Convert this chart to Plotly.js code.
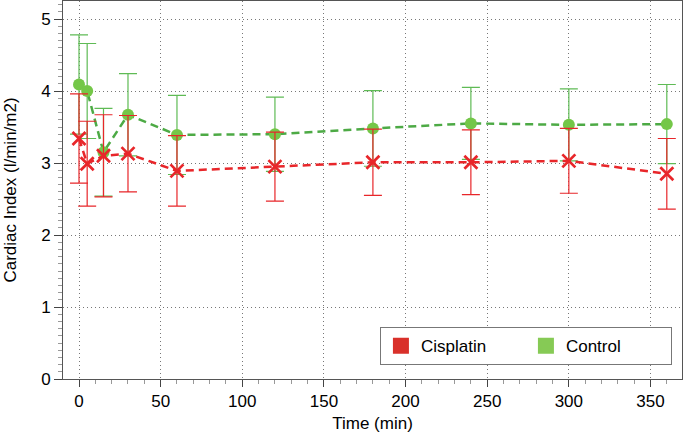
<!DOCTYPE html>
<html>
<head>
<meta charset="utf-8">
<script src="https://cdn.plot.ly/plotly-3.0.1.min.js"></script>
<style>html,body{margin:0;padding:0;background:#fff}#chart{width:685px;height:433px}</style>
</head>
<body>
<div id="chart"></div>
<script>
const timeMin = [0, 5, 15, 30, 60, 120, 180, 240, 300, 360];
const cisplatinMean = [3.34, 2.99, 3.10, 3.13, 2.89, 2.95, 3.01, 3.01, 3.03, 2.85];
const cisplatinErr  = [0.62, 0.59, 0.57, 0.53, 0.49, 0.48, 0.46, 0.45, 0.45, 0.49];
const controlMean   = [4.09, 4.00, 3.15, 3.67, 3.39, 3.40, 3.48, 3.55, 3.53, 3.54];
const controlErr    = [0.69, 0.66, 0.61, 0.57, 0.55, 0.515, 0.525, 0.50, 0.50, 0.55];
const seriesNames = ["Cisplatin", "Control"];

const RED = '#e8262a', RED_LEG = '#d9302a';
const GREEN_MK = '#74c748', GREEN_LN = '#4daa45', GREEN_ERR = '#5fbb55', GREEN_LEG = '#86ca55';
const FONT = 'Liberation Sans, Arial, Helvetica, sans-serif';

const traces = [
  {
    x: timeMin, y: controlMean, type: 'scatter', mode: 'lines+markers',
    name: seriesNames[1], showlegend: false,
    line: {color: GREEN_LN, width: 2.5, dash: '8px,5px'},
    marker: {symbol: 'circle', size: 12, color: GREEN_MK},
    error_y: {type: 'data', array: controlErr, visible: true, color: GREEN_ERR, thickness: 1.2, width: 9}
  },
  {
    x: timeMin, y: cisplatinMean, type: 'scatter', mode: 'lines+markers',
    name: seriesNames[0], showlegend: false,
    line: {color: RED, width: 2.5, dash: '8px,5px'},
    marker: {symbol: 'x-thin', size: 13, color: RED, line: {color: RED, width: 2.7}},
    error_y: {type: 'data', array: cisplatinErr, visible: true, color: RED, thickness: 1.2, width: 9}
  },
  {
    x: [null], y: [null], type: 'scatter', mode: 'markers', name: seriesNames[0],
    marker: {symbol: 'square', size: 16, color: RED_LEG}
  },
  {
    x: [null], y: [null], type: 'scatter', mode: 'markers', name: seriesNames[1],
    marker: {symbol: 'square', size: 16, color: GREEN_LEG}
  }
];

const layout = {
  width: 685, height: 433,
  margin: {l: 63, r: 3, t: 1, b: 54, autoexpand: false},
  paper_bgcolor: '#fff', plot_bgcolor: '#fff',
  font: {family: FONT, size: 17, color: '#000'},
  showlegend: true,
  legend: {
    orientation: 'h', x: 0.512, y: 0.137, xanchor: 'left', yanchor: 'top',
    bgcolor: '#fff', bordercolor: '#777', borderwidth: 1,
    font: {family: FONT, size: 17, color: '#000'},
    entrywidth: 100, entrywidthmode: 'pixels', traceorder: 'normal'
  },
  xaxis: {
    range: [-9.8, 369.3], tickvals: [0, 50, 100, 150, 200, 250, 300, 350],
    ticks: 'outside', ticklen: 7, tickcolor: '#444', tickwidth: 1,
    showline: true, linecolor: '#555', linewidth: 1, mirror: true,
    showgrid: true, gridcolor: '#777', griddash: '1px,3px', gridwidth: 1,
    zeroline: false,
    minor: {dtick: 10, ticks: 'outside', ticklen: 4, tickcolor: '#999', showgrid: false},
    tickfont: {size: 17},
    title: {text: 'Time (min)', font: {size: 17}, standoff: 11}
  },
  yaxis: {
    range: [0, 5.25], tickvals: [0, 1, 2, 3, 4, 5],
    ticks: 'outside', ticklen: 8, tickcolor: '#444', tickwidth: 1,
    showline: true, linecolor: '#555', linewidth: 1, mirror: true,
    showgrid: true, gridcolor: '#777', griddash: '1px,3px', gridwidth: 1,
    zeroline: false,
    minor: {dtick: 0.1, ticks: 'outside', ticklen: 4, tickcolor: '#999', showgrid: false},
    tickfont: {size: 17},
    title: {text: 'Cardiac Index (l/min/m2)', font: {size: 17}, standoff: 20}
  }
};

Plotly.newPlot('chart', traces, layout, {displayModeBar: false, staticPlot: true});
</script>
</body>
</html>
